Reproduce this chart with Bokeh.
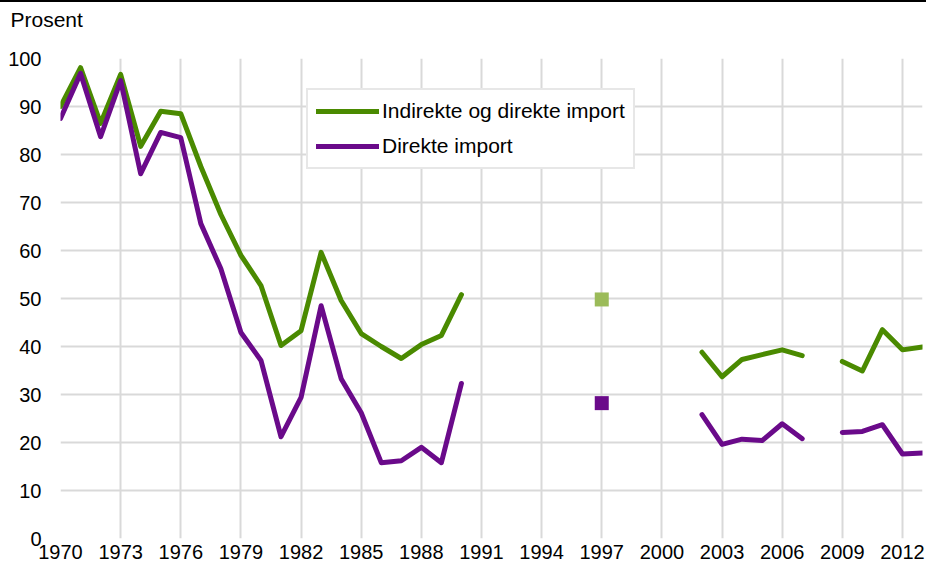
import numpy as np
from bokeh.plotting import figure
from bokeh.models import Range1d, FixedTicker, Legend, LegendItem, Title
from bokeh.embed import file_html
from bokeh.resources import INLINE

nan = np.nan
years = list(range(1970, 2014))
indirekte = [90, 98.1, 86.5, 96.7, 81.7, 89, 88.5, 77.5, 67.5, 59, 52.7, 40.2, 43.3, 59.6, 49.6,
             42.7, 40, 37.5, 40.4, 42.3, 50.8,
             nan, nan, nan, nan, nan, nan, nan, nan, nan, nan, nan,
             38.8, 33.7, 37.3, 38.3, 39.3, 38.1, nan, 36.9, 34.9, 43.5, 39.3, 39.9]
direkte = [87.5, 96.9, 83.7, 95.4, 76, 84.6, 83.5, 65.6, 56.2, 42.9, 37.1, 21.2, 29.4, 48.5, 33.3,
           26.2, 15.8, 16.2, 19, 15.8, 32.3,
           nan, nan, nan, nan, nan, nan, nan, nan, nan, nan, nan,
           25.8, 19.6, 20.7, 20.4, 23.9, 20.8, nan, 22.1, 22.3, 23.7, 17.6, 17.8]
point_year = [1997]
point_indirekte = [49.8]
point_direkte = [28.2]
x_ticks = list(range(1970, 2013, 3))
y_ticks = list(range(0, 101, 10))
series_names = ["Indirekte og direkte import", "Direkte import"]

GREEN = "#4a8a00"
LIGHT_GREEN = "#9bbb59"
PURPLE = "#6a0a8a"
GRID = "#d9d9d9"
FONT = "Liberation Sans"

p = figure(width=926, height=561, output_backend="svg", toolbar_location=None,
           x_range=Range1d(1970, 2013), y_range=Range1d(0, 100),
           min_border_left=60, min_border_right=4, min_border_top=56, min_border_bottom=25,
           styles={"border-top": "2px solid #000000"})
p.outline_line_color = None
p.background_fill_color = "white"
p.border_fill_color = "white"

p.title = Title(text="Prosent\n", align="left", offset=-50, text_font=FONT,
                text_font_size="21px", text_color="#000000", text_font_style="normal",
                vertical_align="top", standoff=6)

p.xaxis.ticker = FixedTicker(ticks=x_ticks)
p.yaxis.ticker = FixedTicker(ticks=y_ticks)
p.xgrid.ticker = FixedTicker(ticks=x_ticks + [2013])
for ax in (p.xaxis[0], p.yaxis[0]):
    ax.axis_line_color = None
    ax.major_tick_line_color = None
    ax.minor_tick_line_color = None
    ax.major_tick_out = 0
    ax.major_tick_in = 0
    ax.minor_tick_out = 0
    ax.minor_tick_in = 0
    ax.major_label_text_font = FONT
    ax.major_label_text_font_size = "20px"
    ax.major_label_text_color = "#000000"
p.xaxis.major_label_standoff = 6
p.yaxis.major_label_standoff = 19

for g in (p.xgrid[0], p.ygrid[0]):
    g.grid_line_color = GRID
    g.grid_line_width = 2

r1 = p.line(years, indirekte, line_color=GREEN, line_width=5, line_join="round", line_cap="round")
r2 = p.line(years, direkte, line_color=PURPLE, line_width=5, line_join="round", line_cap="round")
p.scatter(point_year, point_indirekte, marker="square", size=14, fill_color=LIGHT_GREEN, line_color=None)
p.scatter(point_year, point_direkte, marker="square", size=14, fill_color=PURPLE, line_color=None)

legend = Legend(items=[LegendItem(label=series_names[0], renderers=[r1]),
                       LegendItem(label=series_names[1], renderers=[r2])],
                location=(246, 369), orientation="vertical",
                padding=8, spacing=9, margin=0,
                glyph_width=63, glyph_height=26, label_height=26, label_standoff=3,
                label_text_font=FONT, label_text_font_size="21px", label_text_color="#000000",
                border_line_color="#d0d0d0", border_line_width=2,
                background_fill_color="white", background_fill_alpha=1)
p.add_layout(legend, "center")

open("out.html", "w").write(file_html(p, INLINE))
